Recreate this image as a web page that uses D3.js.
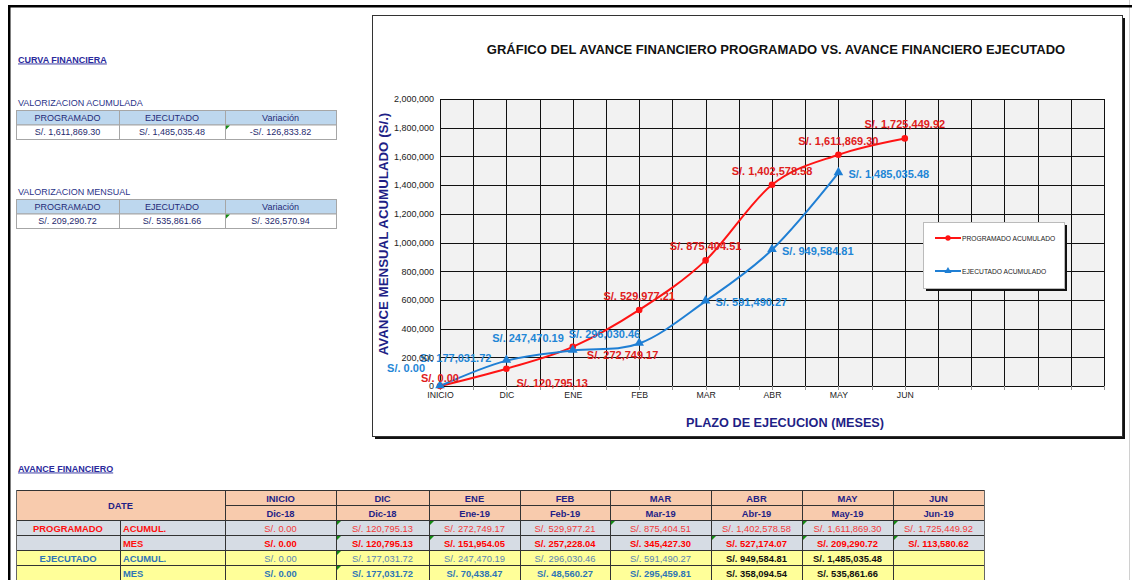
<!DOCTYPE html>
<html>
<head>
<meta charset="utf-8">
<script src="https://cdn.jsdelivr.net/npm/d3@7"></script>
<style>
  body { margin: 0; background: #fff; }
  svg { display: block; font-family: "Liberation Sans", Arial, sans-serif; }
</style>
</head>
<body>
<svg id="sheet" width="1132" height="580"></svg>
<script>
// ---- data ----
const months = ["INICIO", "DIC", "ENE", "FEB", "MAR", "ABR", "MAY", "JUN"];
const periods = ["Dic-18", "Dic-18", "Ene-19", "Feb-19", "Mar-19", "Abr-19", "May-19", "Jun-19"];
const progAcum = [0, 120795.13, 272749.17, 529977.21, 875404.51, 1402578.58, 1611869.30, 1725449.92];
const progMes = [0, 120795.13, 151954.05, 257228.04, 345427.30, 527174.07, 209290.72, 113580.62];
const ejecAcum = [0, 177031.72, 247470.19, 296030.46, 591490.27, 949584.81, 1485035.48, null];
const ejecMes = [0, 177031.72, 70438.47, 48560.27, 295459.81, 358094.54, 535861.66, null];
const yTicks = [0, 200000, 400000, 600000, 800000, 1000000, 1200000, 1400000, 1600000, 1800000, 2000000];
const currentIdx = 6; // last executed month (MAY)

// where each point label sits relative to its marker
const progLabelPlace = ["above-near", "below-right", "right-low", "above", "above", "above", "above", "above"];
const ejecLabelPlace = ["left-high", "left", "above-left", "above-end", "right", "right", "right", null];

const RED = "#ff1414", RED_TXT = "#e0201c";
const BLUE = "#1f7fd4", BLUE_TXT = "#1f86d6";
const NAVY = "#1f1f86";

const money = d3.format(",.2f");
const sol = v => (v < 0 ? "-S/. " : "S/. ") + money(Math.abs(v));

const svg = d3.select("#sheet");

// ---- sheet frame ----
svg.append("line").attr("x1", 1129.5).attr("x2", 1129.5).attr("y1", 0).attr("y2", 580)
  .attr("stroke", "#d0d0d0");
svg.append("rect").attr("x", 8).attr("y", 5).attr("width", 1124).attr("height", 2.5).attr("fill", "#000");
svg.append("rect").attr("x", 8).attr("y", 5).attr("width", 2.5).attr("height", 575).attr("fill", "#000");

// ---- left summary blocks ----
svg.append("text").attr("x", 18).attr("y", 62.5)
  .attr("font-size", 9).attr("font-weight", "bold").attr("fill", "#2a2a9c")
  .attr("text-decoration", "underline").text("CURVA FINANCIERA");

function summaryTable(title, top, prog, ejec) {
  svg.append("text").attr("x", 18).attr("y", top - 4)
    .attr("font-size", 9).attr("fill", "#2b3489").text(title);
  const cols = [16, 119, 225, 336];
  const heads = ["PROGRAMADO", "EJECUTADO", "Variación"];
  const vals = [sol(prog), sol(ejec), sol(ejec - prog)];
  const rh = 14.5;
  for (let c = 0; c < 3; c++) {
    svg.append("rect").attr("x", cols[c] + 0.5).attr("y", top + 0.5)
      .attr("width", cols[c + 1] - cols[c]).attr("height", rh)
      .attr("fill", "#bdd7ee").attr("stroke", "#a6a6a6");
    svg.append("rect").attr("x", cols[c] + 0.5).attr("y", top + rh + 0.5)
      .attr("width", cols[c + 1] - cols[c]).attr("height", rh)
      .attr("fill", "#fff").attr("stroke", "#a6a6a6");
    svg.append("text").attr("x", (cols[c] + cols[c + 1]) / 2).attr("y", top + rh / 2 + 0.5)
      .attr("text-anchor", "middle").attr("dominant-baseline", "central")
      .attr("font-size", 9).attr("fill", "#1f2a78").text(heads[c]);
    svg.append("text").attr("x", (cols[c] + cols[c + 1]) / 2).attr("y", top + rh * 1.5 + 0.5)
      .attr("text-anchor", "middle").attr("dominant-baseline", "central")
      .attr("font-size", 9).attr("fill", "#1f2a6e").text(vals[c]);
  }
  svg.append("path").attr("d", `M${cols[2] + 1},${top + rh + 1}h4l-4,4z`).attr("fill", "#138a13");
}
summaryTable("VALORIZACION ACUMULADA", 110, progAcum[currentIdx], ejecAcum[currentIdx]);
summaryTable("VALORIZACION MENSUAL", 199, progMes[currentIdx], ejecMes[currentIdx]);

// ---- chart box ----
svg.append("rect").attr("x", 375).attr("y", 18).attr("width", 750).attr("height", 421).attr("fill", "#111");
svg.append("rect").attr("x", 372.5).attr("y", 15.5).attr("width", 750).attr("height", 421)
  .attr("fill", "#fff").attr("stroke", "#333");

svg.append("text").attr("x", 776).attr("y", 49).attr("text-anchor", "middle")
  .attr("dominant-baseline", "central").attr("font-size", 13).attr("font-weight", "bold")
  .attr("fill", "#111")
  .text("GRÁFICO DEL AVANCE FINANCIERO PROGRAMADO VS. AVANCE FINANCIERO EJECUTADO");

const x = d3.scaleLinear().domain([0, 10]).range([440, 1104]);
const y = d3.scaleLinear().domain([0, 2000000]).range([386, 99]);

const plot = svg.append("g");
plot.append("rect").attr("x", x(0)).attr("y", y(2000000))
  .attr("width", x(10) - x(0)).attr("height", y(0) - y(2000000)).attr("fill", "#f2f2f2");

// grid: a line on every category and half-category, and on every y tick
const halfSteps = d3.range(0, 10.001, 0.5);
plot.selectAll("line.vg").data(halfSteps).join("line").attr("class", "vg")
  .attr("x1", d => Math.round(x(d)) + 0.5).attr("x2", d => Math.round(x(d)) + 0.5)
  .attr("y1", y(2000000)).attr("y2", y(0))
  .attr("stroke", "#111").attr("stroke-width", 1);
plot.selectAll("line.hg").data(yTicks).join("line").attr("class", "hg")
  .attr("x1", x(0)).attr("x2", x(10))
  .attr("y1", d => Math.round(y(d)) + 0.5).attr("y2", d => Math.round(y(d)) + 0.5)
  .attr("stroke", "#111").attr("stroke-width", d => d === 0 ? 1.2 : 1);
// small tick marks under the category axis
plot.selectAll("line.tk").data(halfSteps).join("line").attr("class", "tk")
  .attr("x1", d => Math.round(x(d)) + 0.5).attr("x2", d => Math.round(x(d)) + 0.5)
  .attr("y1", y(0)).attr("y2", y(0) + 4).attr("stroke", "#999");

// axes (labels only, the grid carries the lines)
const yAxis = svg.append("g").attr("transform", `translate(${x(0)},0)`)
  .call(d3.axisLeft(y).tickValues(yTicks).tickFormat(d3.format(",")).tickSize(0).tickPadding(6));
yAxis.select(".domain").remove();
yAxis.selectAll("text").attr("font-size", 9).attr("fill", "#222")
  .attr("font-family", "'Liberation Sans', Arial, sans-serif");

const xAxis = svg.append("g").attr("transform", `translate(0,${y(0)})`)
  .call(d3.axisBottom(x).tickValues(d3.range(months.length)).tickFormat(i => months[i])
    .tickSize(0).tickPadding(6));
xAxis.select(".domain").remove();
xAxis.selectAll("text").attr("font-size", 8.7).attr("fill", "#222")
  .attr("font-family", "'Liberation Sans', Arial, sans-serif");

svg.append("text").attr("transform", `translate(383,234) rotate(-90)`)
  .attr("text-anchor", "middle").attr("dominant-baseline", "central")
  .attr("font-size", 13.3).attr("font-weight", "bold").attr("fill", NAVY)
  .text("AVANCE MENSUAL ACUMULADO (S/.)");
svg.append("text").attr("x", 785).attr("y", 423).attr("text-anchor", "middle")
  .attr("dominant-baseline", "central").attr("font-size", 12.7).attr("font-weight", "bold")
  .attr("fill", NAVY).text("PLAZO DE EJECUCION (MESES)");

// ---- series ----
const line = d3.line().defined(d => d != null).x((d, i) => x(i)).y(d => y(d))
  .curve(d3.curveCardinal.tension(0));

plot.append("path").datum(progAcum).attr("d", line)
  .attr("fill", "none").attr("stroke", RED).attr("stroke-width", 2);
plot.append("path").datum(ejecAcum).attr("d", line)
  .attr("fill", "none").attr("stroke", BLUE).attr("stroke-width", 2);

const diamond = d3.symbol().type(d3.symbolCircle).size(34);
const tri = d3.symbol().type(d3.symbolTriangle).size(40);

plot.selectAll("path.pm").data(progAcum).join("path").attr("class", "pm")
  .attr("d", diamond).attr("transform", (d, i) => `translate(${x(i)},${y(d)})`).attr("fill", RED);
plot.selectAll("path.em").data(ejecAcum.filter(d => d != null)).join("path").attr("class", "em")
  .attr("d", tri).attr("transform", (d, i) => `translate(${x(i)},${y(d) - 0.5})`).attr("fill", BLUE);

const place = {
  "above":       { dx: 0,   dy: -14, anchor: "middle" },
  "above-near":  { dx: 0,   dy: -8,  anchor: "middle" },
  "below-right": { dx: 10,  dy: 14,  anchor: "start" },
  "right-low":   { dx: 14,  dy: 8,   anchor: "start" },
  "right":       { dx: 10,  dy: 1,   anchor: "start" },
  "left":        { dx: -15, dy: -3,  anchor: "end" },
  "left-high":   { dx: -15, dy: -18, anchor: "end" },
  "above-left":  { dx: -9,  dy: -12, anchor: "end" },
  "above-end":   { dx: 1,   dy: -10, anchor: "end" }
};

function labels(values, places, color) {
  values.forEach((v, i) => {
    if (v == null || !places[i]) return;
    const p = place[places[i]];
    plot.append("text").attr("x", x(i) + p.dx).attr("y", y(v) + p.dy)
      .attr("text-anchor", p.anchor).attr("dominant-baseline", "central")
      .attr("font-size", 11).attr("font-weight", "bold").attr("fill", color)
      .text(sol(v));
  });
}
labels(progAcum, progLabelPlace, RED_TXT);
labels(ejecAcum, ejecLabelPlace, BLUE_TXT);

// ---- legend ----
const lg = svg.append("g");
lg.append("rect").attr("x", 926).attr("y", 225).attr("width", 141).attr("height", 66).attr("fill", "#111");
lg.append("rect").attr("x", 923.5).attr("y", 222.5).attr("width", 141).attr("height", 66)
  .attr("fill", "#fff").attr("stroke", "#bbb");
[["PROGRAMADO ACUMULADO", RED, diamond, 238], ["EJECUTADO ACUMULADO", BLUE, tri, 271]]
  .forEach(([name, col, sym, ly]) => {
    lg.append("line").attr("x1", 935).attr("x2", 961).attr("y1", ly).attr("y2", ly)
      .attr("stroke", col).attr("stroke-width", 2);
    lg.append("path").attr("d", sym.size(22)()).attr("transform", `translate(948,${ly})`).attr("fill", col);
    lg.append("text").attr("x", 962).attr("y", ly).attr("dominant-baseline", "central")
      .attr("font-size", 6.7).attr("fill", "#222").text(name);
  });
diamond.size(34); tri.size(40);

// ---- bottom table ----
svg.append("text").attr("x", 18).attr("y", 471.5)
  .attr("font-size", 9).attr("font-weight", "bold").attr("fill", "#2a2a9c")
  .attr("text-decoration", "underline").text("AVANCE FINANCIERO");

const colX = [16, 120, 225, 336, 429, 520, 610, 711, 802, 893, 984];
const rowY = [490, 505, 520, 535, 550, 565, 580];
const tbl = svg.append("g");
const PEACH = "#f8cbad", GREYBLUE = "#d6dce4", YELLOW = "#ffff99";
const rowFill = [PEACH, PEACH, GREYBLUE, GREYBLUE, YELLOW, YELLOW];
rowFill.forEach((f, r) => {
  tbl.append("rect").attr("x", colX[0]).attr("y", rowY[r])
    .attr("width", colX[10] - colX[0]).attr("height", rowY[r + 1] - rowY[r]).attr("fill", f);
});

// grid lines of the table
const gridStroke = "#333";
for (let r = 0; r < rowY.length; r++) {
  const x0 = r === 1 ? colX[2] : colX[0];
  tbl.append("line").attr("x1", x0).attr("x2", colX[10])
    .attr("y1", rowY[r] + 0.5).attr("y2", rowY[r] + 0.5).attr("stroke", gridStroke);
}
colX.forEach((cx, c) => {
  const yStart = c === 1 ? rowY[2] : rowY[0];
  tbl.append("line").attr("x1", cx + 0.5).attr("x2", cx + 0.5).attr("y1", yStart).attr("y2", 580)
    .attr("stroke", c === 0 || c === 10 ? "#666" : gridStroke);
});

function cellText(c0, c1, r, txt, opts) {
  const cx = opts.anchor === "start" ? colX[c0] + 3 : (colX[c0] + colX[c1]) / 2;
  tbl.append("text").attr("x", cx).attr("y", (rowY[r] + rowY[r + 1]) / 2 + 0.5)
    .attr("text-anchor", opts.anchor || "middle").attr("dominant-baseline", "central")
    .attr("font-size", 9.4).attr("font-weight", opts.bold ? "bold" : "normal")
    .attr("fill", opts.color).text(txt);
}
tbl.append("text").attr("x", (colX[0] + colX[2]) / 2).attr("y", rowY[1] + 0.5)
  .attr("text-anchor", "middle").attr("dominant-baseline", "central")
  .attr("font-size", 9.4).attr("font-weight", "bold").attr("fill", NAVY).text("DATE");
cellText(0, 1, 2, "PROGRAMADO", { bold: true, color: "#ff1010" });
cellText(0, 1, 4, "EJECUTADO", { bold: true, color: "#2e75b6" });
cellText(1, 2, 2, "ACUMUL.", { bold: true, color: "#ff1010", anchor: "start" });
cellText(1, 2, 3, "MES", { bold: true, color: "#ff1010", anchor: "start" });
cellText(1, 2, 4, "ACUMUL.", { bold: true, color: "#2e75b6", anchor: "start" });
cellText(1, 2, 5, "MES", { bold: true, color: "#2e75b6", anchor: "start" });

months.forEach((m, i) => {
  const c = i + 2;
  cellText(c, c + 1, 0, m, { bold: true, color: NAVY });
  cellText(c, c + 1, 1, periods[i], { bold: true, color: NAVY });
  cellText(c, c + 1, 2, sol(progAcum[i]), { color: "#f23a3a" });
  cellText(c, c + 1, 3, sol(progMes[i]), { bold: true, color: "#ff0000" });
  const late = i >= 5;
  if (ejecAcum[i] != null)
    cellText(c, c + 1, 4, sol(ejecAcum[i]), late ? { bold: true, color: "#111" } : { color: "#5a86b4" });
  if (ejecMes[i] != null)
    cellText(c, c + 1, 5, sol(ejecMes[i]), late ? { bold: true, color: "#111" } : { bold: true, color: "#2e75b6" });
});

// green comment flags in cell corners
const flags = [[3, 2], [4, 2], [6, 2], [8, 2], [9, 2], [3, 3], [4, 3], [7, 3], [8, 3], [9, 3], [3, 4], [3, 5]];
flags.forEach(([c, r]) => {
  tbl.append("path").attr("d", `M${colX[c] + 1},${rowY[r] + 1}h4l-4,4z`).attr("fill", "#138a13");
});
</script>
</body>
</html>
